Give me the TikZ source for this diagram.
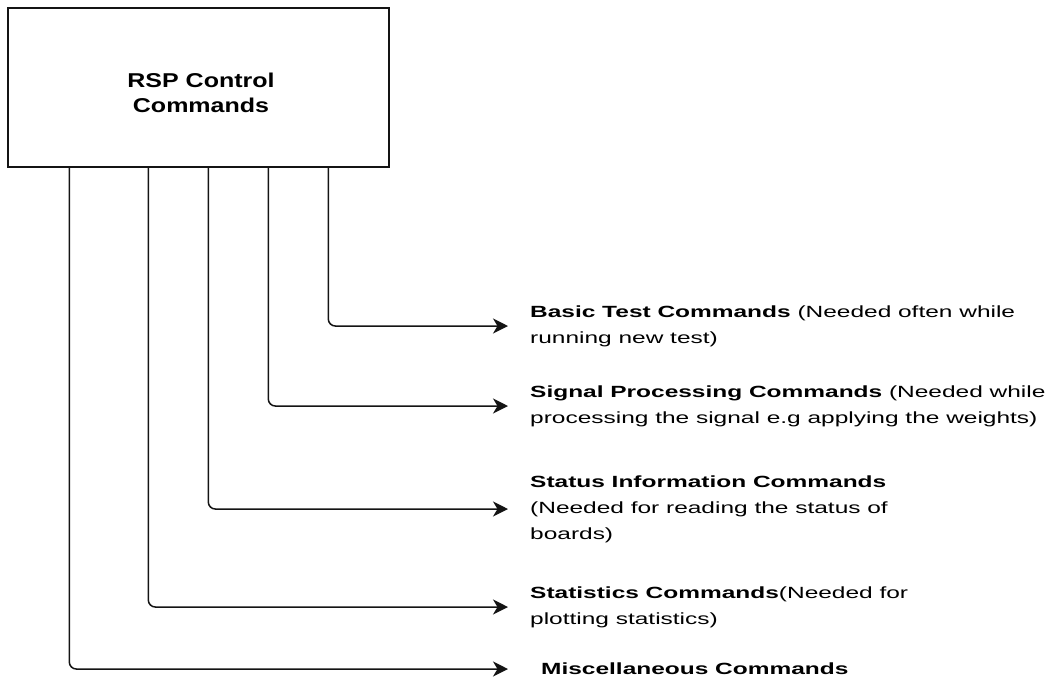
\documentclass[tikz,border=0pt]{standalone}
\usepackage{fontspec}
\setmainfont{Liberation Sans}
\newfontfamily\boxfont[FakeStretch=1.25]{Liberation Sans}
\newfontfamily\cmdfont[FakeStretch=1.51]{Liberation Sans}
\usetikzlibrary{arrows.meta,positioning,calc}
\definecolor{ink}{RGB}{20,20,20}

\begin{document}
\begin{tikzpicture}[x=1pt,y=-1pt,
  mainbox/.style={rectangle,draw=ink,line width=1.4pt,
                  minimum width=381pt,minimum height=159pt,align=center,
                  font=\boxfont\fontsize{20}{25}\selectfont\bfseries},
  cmdtext/.style={anchor=west,inner sep=0pt,align=left,
                  font=\cmdfont\fontsize{16.2}{26}\selectfont},
  arrow/.style={-{Stealth[length=15pt,width=15pt,inset=4.5pt]},line width=1.5pt,
                draw=ink,rounded corners=7pt}
]
\useasboundingbox (0,0) rectangle (1047,686);
% main block
\node[mainbox] (rsp) at (198.5,87.5) {};
\node[font=\boxfont\fontsize{20}{25}\selectfont\bfseries,align=center] (rsptext) at (201,93) {RSP Control\\Commands};
% command groups
\node[cmdtext] (basic) at (530,326) {\textbf{Basic Test Commands} (Needed often while\\running new test)};
\node[cmdtext] (signal) at (530,406) {\textbf{Signal Processing Commands} (Needed while\\processing the signal e.g applying the weights)};
\node[cmdtext] (status) at (530,509) {\textbf{Status Information Commands}\\(Needed for reading the status of\\boards)};
\node[cmdtext] (stats) at (530,607) {\textbf{Statistics Commands}(Needed for\\plotting statistics)};
\node[cmdtext] (misc) at (541,669) {\textbf{Miscellaneous Commands}};
% connectors
\draw[arrow,shorten >=22pt] ([xshift=321pt]rsp.south west) |- (basic);
\draw[arrow,shorten >=22pt] ([xshift=261pt]rsp.south west) |- (signal);
\draw[arrow,shorten >=22pt] ([xshift=201pt]rsp.south west) |- (status);
\draw[arrow,shorten >=22pt] ([xshift=141pt]rsp.south west) |- (stats);
\draw[arrow,shorten >=33pt] ([xshift=62pt]rsp.south west) |- (misc);
\end{tikzpicture}
\end{document}
